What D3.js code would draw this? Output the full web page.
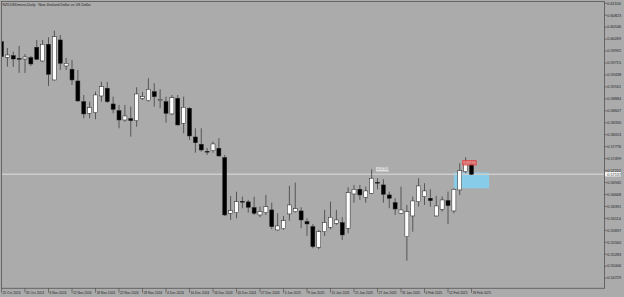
<!DOCTYPE html>
<html><head><meta charset="utf-8">
<script src="https://cdn.jsdelivr.net/npm/d3@7/dist/d3.min.js"></script>
<style>html,body{margin:0;padding:0;background:#ababab;overflow:hidden}svg{display:block}</style>
</head><body><svg id="c" width="624" height="297"></svg>
<script>
const title = "NZDUSDmicro,Daily:  New Zealand Dollar vs US Dollar";
const dates = ["2024-10-25","2024-10-28","2024-10-29","2024-10-30","2024-10-31","2024-11-01","2024-11-04","2024-11-05","2024-11-06","2024-11-07","2024-11-08","2024-11-11","2024-11-12","2024-11-13","2024-11-14","2024-11-15","2024-11-18","2024-11-19","2024-11-20","2024-11-21","2024-11-22","2024-11-25","2024-11-26","2024-11-27","2024-11-28","2024-11-29","2024-12-02","2024-12-03","2024-12-04","2024-12-05","2024-12-06","2024-12-09","2024-12-10","2024-12-11","2024-12-12","2024-12-13","2024-12-16","2024-12-17","2024-12-18","2024-12-19","2024-12-20","2024-12-23","2024-12-24","2024-12-26","2024-12-27","2024-12-30","2024-12-31","2025-01-02","2025-01-03","2025-01-06","2025-01-07","2025-01-08","2025-01-09","2025-01-10","2025-01-13","2025-01-14","2025-01-15","2025-01-16","2025-01-17","2025-01-20","2025-01-21","2025-01-22","2025-01-23","2025-01-24","2025-01-27","2025-01-28","2025-01-29","2025-01-30","2025-01-31","2025-02-03","2025-02-04","2025-02-05","2025-02-06","2025-02-07","2025-02-10","2025-02-11","2025-02-12","2025-02-13","2025-02-14","2025-02-17","2025-02-18"];
const open  = [0.60210,0.59849,0.59886,0.59821,0.59809,0.59840,0.60081,0.59763,0.60150,0.59323,0.60250,0.59647,0.59571,0.59299,0.58820,0.58551,0.58565,0.58952,0.59130,0.58766,0.58611,0.58395,0.58426,0.58379,0.58898,0.58843,0.59051,0.58852,0.58820,0.58535,0.58898,0.58319,0.58667,0.58001,0.57832,0.57668,0.57684,0.57739,0.57522,0.56233,0.56247,0.56509,0.56495,0.56363,0.56193,0.56247,0.56309,0.55846,0.55876,0.56217,0.56270,0.56286,0.56038,0.55922,0.55445,0.55806,0.55908,0.56001,0.56015,0.55885,0.56680,0.56789,0.56604,0.56696,0.56949,0.56889,0.56657,0.56478,0.56233,0.55690,0.56170,0.56502,0.56618,0.56580,0.56170,0.56325,0.56525,0.56286,0.56773,0.57197,0.57376];
const high  = [0.60296,0.60064,0.59979,0.60111,0.59925,0.59879,0.60250,0.60250,0.60312,0.60465,0.60366,0.59833,0.59786,0.59554,0.58975,0.58820,0.59051,0.59283,0.59276,0.58936,0.58743,0.58743,0.58704,0.59153,0.59044,0.59362,0.59246,0.59107,0.58936,0.58975,0.58975,0.58936,0.58690,0.58203,0.58203,0.57746,0.57892,0.57971,0.57584,0.56634,0.56733,0.56618,0.56541,0.56618,0.56386,0.56657,0.56478,0.56233,0.56170,0.56866,0.56942,0.56372,0.56117,0.55985,0.55846,0.56309,0.56502,0.56309,0.56140,0.56835,0.56889,0.56889,0.56849,0.57253,0.57044,0.57021,0.56733,0.56580,0.56849,0.56425,0.56618,0.57044,0.56928,0.56789,0.56634,0.56618,0.56733,0.56812,0.57392,0.57531,0.57429];
const low   = [0.59740,0.59631,0.59624,0.59485,0.59485,0.59647,0.59786,0.59740,0.59184,0.59311,0.59554,0.59554,0.59207,0.58820,0.58435,0.58435,0.58412,0.58820,0.58790,0.58551,0.58203,0.58356,0.58008,0.58240,0.58859,0.58820,0.58704,0.58667,0.58333,0.58511,0.58268,0.58087,0.57932,0.57637,0.57661,0.57584,0.57637,0.57545,0.56170,0.56077,0.56117,0.56349,0.56247,0.56193,0.56140,0.56193,0.55862,0.55829,0.55846,0.56061,0.56247,0.55885,0.55707,0.55421,0.55398,0.55707,0.55862,0.55962,0.55614,0.55769,0.56478,0.56541,0.56478,0.56680,0.56789,0.56478,0.56349,0.56193,0.56217,0.55134,0.55806,0.56386,0.56425,0.56386,0.56154,0.56270,0.55985,0.56233,0.56657,0.57160,0.57121];
const close = [0.59863,0.59902,0.59809,0.59805,0.59856,0.59694,0.59802,0.60150,0.59455,0.60326,0.59710,0.59710,0.59323,0.58836,0.58535,0.58681,0.58975,0.59167,0.58820,0.58643,0.58395,0.58488,0.58379,0.58998,0.58936,0.59107,0.58936,0.58866,0.58551,0.58912,0.58280,0.58690,0.58025,0.57869,0.57700,0.57654,0.57839,0.57561,0.56193,0.56293,0.56502,0.56495,0.56372,0.56233,0.56270,0.56386,0.55922,0.55938,0.56061,0.56425,0.56339,0.56077,0.55985,0.55459,0.55806,0.56015,0.56140,0.56077,0.55730,0.56710,0.56789,0.56657,0.56750,0.57044,0.56935,0.56673,0.56580,0.56332,0.56309,0.56270,0.56518,0.56866,0.56750,0.56525,0.56402,0.56541,0.56409,0.56789,0.57220,0.57392,0.57137];
const priceTicks = [0.61100,0.60823,0.60546,0.60269,0.59992,0.59715,0.59438,0.59161,0.58884,0.58607,0.58330,0.58053,0.57776,0.57499,0.57222,0.56945,0.56668,0.56391,0.56114,0.55837,0.55560,0.55283,0.55006,0.54729];
const dateTicks = ["2024-10-25","2024-10-31","2024-11-06","2024-11-12","2024-11-18","2024-11-22","2024-11-28","2024-12-04","2024-12-10","2024-12-16","2024-12-20","2024-12-27","2025-01-03","2025-01-09","2025-01-15","2025-01-21","2025-01-27","2025-01-31","2025-02-06","2025-02-12","2025-02-18"];
const currentPrice = 0.57137;
const highLabelBar = 63;
const blueZone = [77, 83, 0.57177, 0.56812];
const redZone = [78.5, 80.8, 0.57452, 0.57352];

const svg = d3.select("#c");
const L = 1.5, R = 604.5, T = 1.5, B = 288.3;
const x = d3.scaleLinear().domain([0, dates.length - 1]).range([1.5, 471.5]);
const y = d3.scaleLinear().domain([0.54729, 0.61100]).range([278.1, 3.3]);
const parse = d3.timeParse("%Y-%m-%d"), fmt = d3.timeFormat("%-d %b %Y");
const font = "Liberation Sans, Arial, sans-serif";

svg.append("rect").attr("width",624).attr("height",297).attr("fill","#ababab");
svg.append("clipPath").attr("id","clip").append("rect").attr("x",L).attr("y",T).attr("width",R-L).attr("height",B-T);
const plot = svg.append("g").attr("clip-path","url(#clip)");

// zones
plot.append("rect").attr("x",x(blueZone[0])).attr("width",x(blueZone[1])-x(blueZone[0]))
  .attr("y",y(blueZone[2])).attr("height",y(blueZone[3])-y(blueZone[2])).attr("fill","#87cdea");
// current price line
plot.append("line").attr("x1",L).attr("x2",R).attr("y1",y(currentPrice)).attr("y2",y(currentPrice))
  .attr("stroke","#cdcdcd").attr("stroke-width",1.3);

const data = dates.map((d,i)=>({i, o:open[i], h:high[i], l:low[i], c:close[i]}));
const g = plot.append("g");
g.selectAll("line.w").data(data).join("line").attr("class","w")
  .attr("x1",d=>x(d.i)).attr("x2",d=>x(d.i)).attr("y1",d=>y(d.h)).attr("y2",d=>y(d.l))
  .attr("stroke","#4c4c4c").attr("stroke-width",0.9);
g.selectAll("rect.b").data(data).join("rect").attr("class","b")
  .attr("x",d=>x(d.i)-2).attr("width",4)
  .attr("y",d=>y(Math.max(d.o,d.c))).attr("height",d=>Math.max(0.8,Math.abs(y(d.o)-y(d.c))))
  .attr("fill",d=>d.c>=d.o?"#ffffff":"#000000").attr("stroke","#222").attr("stroke-width",0.5);

// red box
plot.append("rect").attr("x",x(redZone[0])).attr("width",x(redZone[1])-x(redZone[0]))
  .attr("y",y(redZone[2])).attr("height",y(redZone[3])-y(redZone[2]))
  .attr("fill","#e87878").attr("fill-opacity",0.85).attr("stroke","#e03c3c").attr("stroke-width",0.8);

// high label near bar
const hx = x(highLabelBar)+4.5, hy = y(high[highLabelBar]);
plot.append("rect").attr("x",hx).attr("y",hy-2.3).attr("width",12.5).attr("height",4.6).attr("fill","#dedede");
plot.append("text").attr("x",hx+0.9).attr("y",hy+1.2).attr("font-size",3.3).attr("font-family",font).attr("fill","#8a8a8a")
  .text(high[highLabelBar].toFixed(5));

// frame
svg.append("rect").attr("x",L).attr("y",T).attr("width",R-L).attr("height",B-T)
  .attr("fill","none").attr("stroke","#5e5e5e").attr("stroke-width",0.9);

// title
svg.append("text").attr("x",2.5).attr("y",6.0).attr("font-size",3.6).attr("font-family",font).attr("fill","#1e1e1e")
  .attr("xml:space","preserve").text(title);

// price axis
const pa = svg.append("g");
pa.selectAll("line").data(priceTicks).join("line").attr("x1",R).attr("x2",R+2.5)
  .attr("y1",d=>y(d)).attr("y2",d=>y(d)).attr("stroke","#444").attr("stroke-width",0.6);
pa.selectAll("text").data(priceTicks).join("text").attr("x",R+2.8).attr("y",d=>y(d)+1.3)
  .attr("font-size",3.8).attr("font-family",font).attr("fill","#222").text(d=>d.toFixed(5));
// current price label
svg.append("rect").attr("x",R+0.5).attr("y",y(currentPrice)-2.2).attr("width",16).attr("height",4.4).attr("fill","#f2f2f2");
svg.append("text").attr("x",R+2.8).attr("y",y(currentPrice)+1.3).attr("font-size",3.8).attr("font-family",font).attr("fill","#444").text(currentPrice.toFixed(5));

// date axis
const da = svg.append("g");
const di = dateTicks.map(d=>dates.indexOf(d));
da.selectAll("line").data(di).join("line").attr("x1",d=>x(d)).attr("x2",d=>x(d)).attr("y1",B).attr("y2",B+4.5)
  .attr("stroke","#444").attr("stroke-width",0.6);
da.selectAll("text").data(dateTicks).join("text").attr("x",(d,k)=>x(di[k])+1).attr("y",293.8)
  .attr("font-size",3.3).attr("font-family",font).attr("fill","#222").text(d=>fmt(parse(d)));
</script></body></html>
